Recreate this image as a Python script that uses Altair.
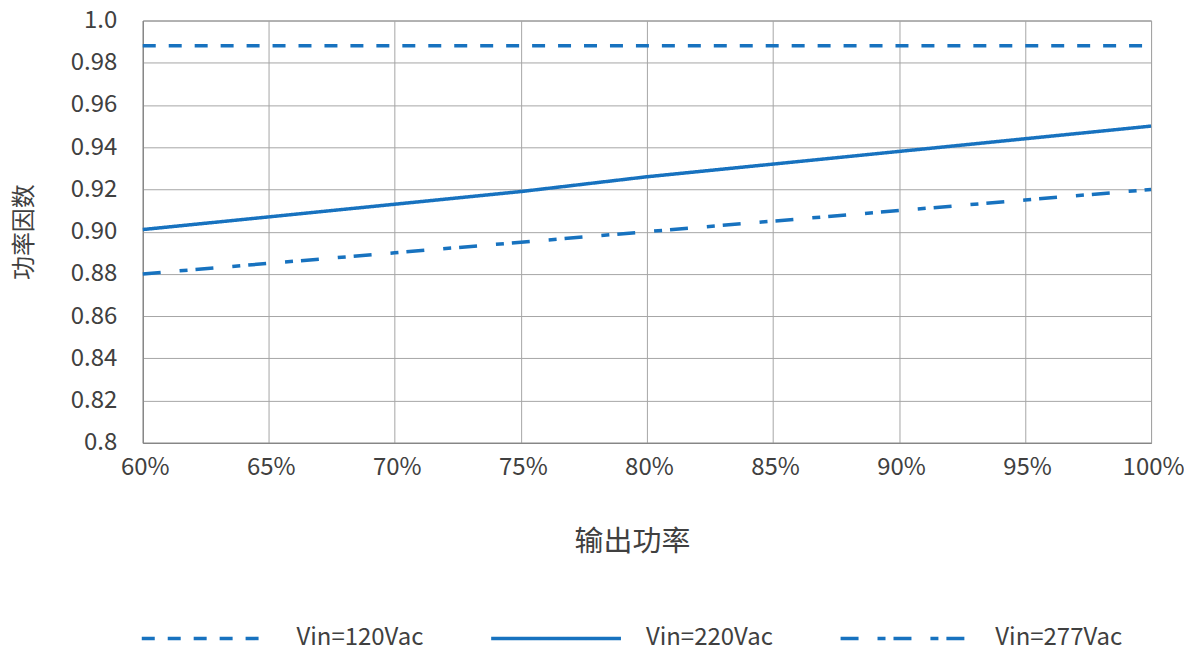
import altair as alt
import pandas as pd

load = [0.60, 0.65, 0.70, 0.75, 0.80, 0.85, 0.90, 0.95, 1.00]
pf_120 = [0.988, 0.988, 0.988, 0.988, 0.988, 0.988, 0.988, 0.988, 0.988]
pf_220 = [0.901, 0.907, 0.913, 0.919, 0.926, 0.932, 0.938, 0.944, 0.950]
pf_277 = [0.880, 0.885, 0.890, 0.895, 0.900, 0.905, 0.910, 0.915, 0.920]
series = ["Vin=120Vac", "Vin=220Vac", "Vin=277Vac"]

rows = []
for name, vals in zip(series, [pf_120, pf_220, pf_277]):
    for x, y in zip(load, vals):
        rows.append({"load": x, "pf": y, "series": name})
df = pd.DataFrame(rows)

FONT = "Noto Sans CJK SC"
TXT = "#404040"
BLUE = "#1772BF"

chart = alt.Chart(df).mark_line(strokeWidth=3.5, strokeCap="butt").encode(
    x=alt.X("load:Q", title="输出功率",
            scale=alt.Scale(domain=[0.6, 1.0], nice=False, zero=False),
            axis=alt.Axis(values=load, format=".0%", tickSize=0, labelPadding=13,
                          labelFlush=False, labelOffset=2,
                          titlePadding=48, titleX=490, labelFontSize=24, titleFontSize=29,
                          domainColor="#808080", gridColor="#A6A6A6")),
    y=alt.Y("pf:Q", title="功率因数",
            scale=alt.Scale(domain=[0.8, 1.0], nice=False, zero=False),
            axis=alt.Axis(values=[0.8, 0.82, 0.84, 0.86, 0.88, 0.9, 0.92, 0.94, 0.96, 0.98, 1.0],
                          labelExpr="abs(datum.value-1)<1e-9 ? '1.0' : abs(datum.value-0.8)<1e-9 ? '0.8' : format(datum.value, '.2f')",
                          tickSize=0, labelPadding=26, titlePadding=34, labelFlush=False,
                          labelFontSize=24, titleFontSize=24,
                          domainColor="#808080", gridColor="#A6A6A6")),
    color=alt.Color("series:N", scale=alt.Scale(domain=series, range=[BLUE, BLUE, BLUE]),
                    legend=alt.Legend(title=None, orient="none", legendX=-3, legendY=552,
                                      direction="horizontal", symbolType="stroke",
                                      symbolSize=16900, symbolStrokeWidth=3.5,
                                      labelFontSize=24, labelOffset=23, columnPadding=60,
                                      labelLimit=300)),
    strokeDash=alt.StrokeDash("series:N",
                              scale=alt.Scale(domain=series, range=[[13, 13], [1, 0], [18, 19, 8, 8]]),
                              legend=None),
).properties(
    width=1010, height=423,
    autosize=alt.AutoSizeParams(type="none"),
    padding={"left": 135, "top": 12, "right": 33, "bottom": 205},
).configure(
    font=FONT,
).configure_axis(
    labelColor=TXT, titleColor=TXT, labelFont=FONT, titleFont=FONT,
    titleFontWeight="normal", gridOpacity=1, gridWidth=1,
).configure_legend(
    labelColor=TXT, labelFont=FONT,
).configure_view(
    stroke="#808080", strokeWidth=1,
)

chart.save("out.html", embed_options={"renderer": "svg", "actions": False})
